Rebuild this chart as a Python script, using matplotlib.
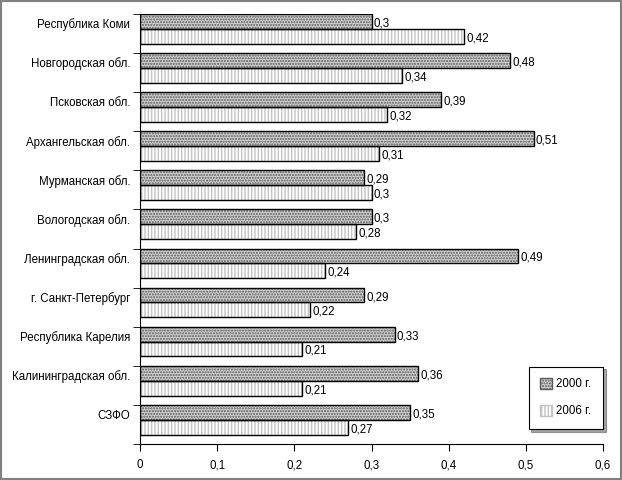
import matplotlib
matplotlib.use('Agg')
import matplotlib.pyplot as plt
import numpy as np
from matplotlib.patches import Rectangle, Patch

plt.rcParams['font.family'] = ['Liberation Sans', 'DejaVu Sans']
plt.rcParams['font.size'] = 8.3

regions = ['Республика Коми', 'Новгородская обл.', 'Псковская обл.', 'Архангельская обл.',
           'Мурманская обл.', 'Вологодская обл.', 'Ленинградская обл.', 'г. Санкт-Петербург',
           'Республика Карелия', 'Калининградская обл.', 'СЗФО']
v2000 = [0.3, 0.48, 0.39, 0.51, 0.29, 0.3, 0.49, 0.29, 0.33, 0.36, 0.35]
v2006 = [0.42, 0.34, 0.32, 0.31, 0.3, 0.28, 0.24, 0.22, 0.21, 0.21, 0.27]

fmt = lambda v: ('%g' % v).replace('.', ',')

fig = plt.figure(figsize=(6.22, 4.8), dpi=100)
ax = fig.add_axes([140 / 622, 1 - 444 / 480, 463 / 622, 430 / 480])

y = np.arange(len(regions))
h = 0.38
y1 = y - 0.12 - h / 2
y2 = y - 0.12 + h / 2

c1, e1, hat1 = '#cfcfcf', '#5a5a5a', '......'
c2, e2, hat2 = 'white', '#c4c4c4', '|||||'

# hatched fill, then black outline
ax.barh(y1, v2000, height=h, color=c1, edgecolor=e1, hatch=hat1, linewidth=0)
ax.barh(y2, v2006, height=h, color=c2, edgecolor=e2, hatch=hat2, linewidth=0)
ax.barh(y1, v2000, height=h, fill=False, edgecolor='black', linewidth=1)
ax.barh(y2, v2006, height=h, fill=False, edgecolor='black', linewidth=1)

for yy, v in zip(y1, v2000):
    ax.text(v + 0.003, yy + 0.05, fmt(v), va='center', ha='left')
for yy, v in zip(y2, v2006):
    ax.text(v + 0.003, yy + 0.05, fmt(v), va='center', ha='left')

ax.set_xlim(0, 0.6)
ax.set_ylim(len(regions) - 0.5, -0.5)
ax.set_xticks(np.arange(0, 0.61, 0.1))
ax.set_xticklabels([fmt(round(t, 1)) for t in np.arange(0, 0.61, 0.1)])
ax.set_yticks(y - 0.26, labels=regions)
ax.tick_params(axis='y', length=0, pad=7)
ax.set_yticks(np.arange(-0.5, len(regions)), minor=True)
ax.tick_params(axis='y', which='minor', length=5, direction='out')
ax.tick_params(axis='x', length=5, direction='out', pad=6)
for s in ['top', 'right']:
    ax.spines[s].set_visible(False)

handles = [Patch(facecolor=c1, edgecolor=e1, hatch=hat1, label='2000 г.'),
           Patch(facecolor=c2, edgecolor=e2, hatch=hat2, label='2006 г.')]
leg = ax.legend(handles=handles, loc='lower right', bbox_to_anchor=(1.0, 0.035), frameon=True,
                shadow=True, fancybox=False, edgecolor='black', handlelength=1, handleheight=1,
                labelspacing=1.3, borderpad=1.0, handletextpad=0.4, borderaxespad=0)
leg.get_frame().set_linewidth(0.8)

fig.patches.append(Rectangle((0.002, 0.002), 0.996, 0.996, transform=fig.transFigure,
                             fill=False, edgecolor='#808080', linewidth=1.5))

fig.savefig('out.png', dpi=100)
